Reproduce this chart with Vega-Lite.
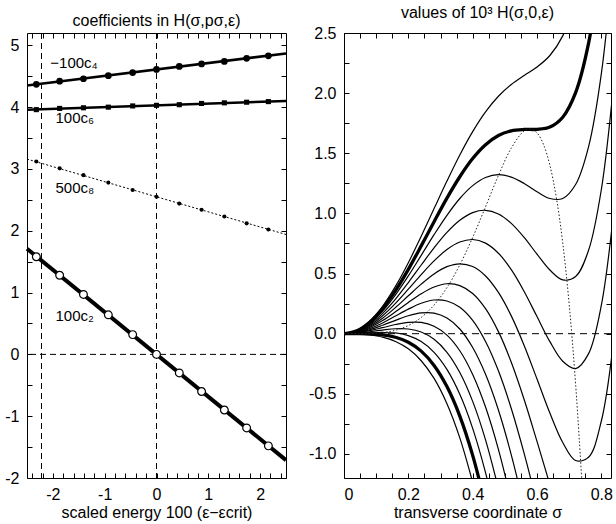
{
  "$schema": "https://vega.github.io/schema/vega-lite/v6.json",
  "padding": {"left": 4, "top": 5, "right": 2, "bottom": 2},
  "config": {
    "font": "Liberation Sans",
    "view": {"stroke": null},
    "axis": {"grid": false, "domainColor": "#000", "domainWidth": 1, "tickColor": "#000", "tickSize": -5, "tickWidth": 1, "labelColor": "#000", "labelFontSize": 16, "labelPadding": 13, "titleColor": "#000", "titleFontSize": 16, "titleFontWeight": "normal", "titlePadding": 2},
    "title": {"fontSize": 16, "fontWeight": "normal", "color": "#000", "offset": 4},
    "concat": {"spacing": 14}
  },
  "datasets": {
    "zero": [{"v": 0}],
    "vlines": [{"e": -2.22}, {"e": 0}],
    "fits": [
      {"series": "c4", "e": -2.5, "v": 4.35}, {"series": "c4", "e": 2.5, "v": 4.87},
      {"series": "c6", "e": -2.5, "v": 3.96}, {"series": "c6", "e": 2.5, "v": 4.10},
      {"series": "c8", "e": -2.5, "v": 3.16}, {"series": "c8", "e": 2.5, "v": 1.94},
      {"series": "c2", "e": -2.5, "v": 1.71}, {"series": "c2", "e": 2.5, "v": -1.71}
    ],
    "coef": [
      {"series": "c4", "e": -2.32, "v": 4.37}, {"series": "c4", "e": -1.87, "v": 4.42}, {"series": "c4", "e": -1.41, "v": 4.46}, {"series": "c4", "e": -0.93, "v": 4.51}, {"series": "c4", "e": -0.46, "v": 4.56}, {"series": "c4", "e": 0, "v": 4.61}, {"series": "c4", "e": 0.44, "v": 4.66}, {"series": "c4", "e": 0.87, "v": 4.70}, {"series": "c4", "e": 1.31, "v": 4.74}, {"series": "c4", "e": 1.74, "v": 4.79}, {"series": "c4", "e": 2.16, "v": 4.83},
      {"series": "c6", "e": -2.32, "v": 3.96}, {"series": "c6", "e": -1.87, "v": 3.98}, {"series": "c6", "e": -1.41, "v": 3.99}, {"series": "c6", "e": -0.93, "v": 4.00}, {"series": "c6", "e": -0.46, "v": 4.02}, {"series": "c6", "e": 0, "v": 4.03}, {"series": "c6", "e": 0.44, "v": 4.04}, {"series": "c6", "e": 0.87, "v": 4.06}, {"series": "c6", "e": 1.31, "v": 4.07}, {"series": "c6", "e": 1.74, "v": 4.08}, {"series": "c6", "e": 2.16, "v": 4.09},
      {"series": "c8", "e": -2.32, "v": 3.12}, {"series": "c8", "e": -1.87, "v": 3.01}, {"series": "c8", "e": -1.41, "v": 2.90}, {"series": "c8", "e": -0.93, "v": 2.78}, {"series": "c8", "e": -0.46, "v": 2.66}, {"series": "c8", "e": 0, "v": 2.55}, {"series": "c8", "e": 0.44, "v": 2.44}, {"series": "c8", "e": 0.87, "v": 2.34}, {"series": "c8", "e": 1.31, "v": 2.23}, {"series": "c8", "e": 1.74, "v": 2.12}, {"series": "c8", "e": 2.16, "v": 2.02},
      {"series": "c2", "e": -2.32, "v": 1.58}, {"series": "c2", "e": -1.87, "v": 1.28}, {"series": "c2", "e": -1.41, "v": 0.97}, {"series": "c2", "e": -0.93, "v": 0.64}, {"series": "c2", "e": -0.46, "v": 0.32}, {"series": "c2", "e": 0, "v": 0}, {"series": "c2", "e": 0.44, "v": -0.30}, {"series": "c2", "e": 0.87, "v": -0.60}, {"series": "c2", "e": 1.31, "v": -0.90}, {"series": "c2", "e": 1.74, "v": -1.19}, {"series": "c2", "e": 2.16, "v": -1.48}
    ],
    "notes": [
      {"text": "−100c₄", "e": -2.05, "v": 4.71},
      {"text": "100c₆", "e": -1.95, "v": 3.83},
      {"text": "500c₈", "e": -1.95, "v": 2.70},
      {"text": "100c₂", "e": -1.95, "v": 0.62}
    ],
    "curves": [
      {"eps": -2.4, "s": 0, "h": 0}, {"eps": -2.4, "s": 0.04, "h": 0.026}, {"eps": -2.4, "s": 0.08, "h": 0.104}, {"eps": -2.4, "s": 0.12, "h": 0.228}, {"eps": -2.4, "s": 0.16, "h": 0.393}, {"eps": -2.4, "s": 0.2, "h": 0.590}, {"eps": -2.4, "s": 0.24, "h": 0.810}, {"eps": -2.4, "s": 0.28, "h": 1.040}, {"eps": -2.4, "s": 0.32, "h": 1.269}, {"eps": -2.4, "s": 0.36, "h": 1.486}, {"eps": -2.4, "s": 0.4, "h": 1.680}, {"eps": -2.4, "s": 0.44, "h": 1.844}, {"eps": -2.4, "s": 0.48, "h": 1.974}, {"eps": -2.4, "s": 0.52, "h": 2.072}, {"eps": -2.4, "s": 0.56, "h": 2.147}, {"eps": -2.4, "s": 0.6, "h": 2.217}, {"eps": -2.4, "s": 0.64, "h": 2.313}, {"eps": -2.4, "s": 0.68, "h": 2.476}, {"eps": -2.4, "s": 0.72, "h": 2.769},
      {"eps": -2.2, "s": 0, "h": 0}, {"eps": -2.2, "s": 0.04, "h": 0.024}, {"eps": -2.2, "s": 0.08, "h": 0.095}, {"eps": -2.2, "s": 0.12, "h": 0.208}, {"eps": -2.2, "s": 0.16, "h": 0.358}, {"eps": -2.2, "s": 0.2, "h": 0.535}, {"eps": -2.2, "s": 0.24, "h": 0.730}, {"eps": -2.2, "s": 0.28, "h": 0.931}, {"eps": -2.2, "s": 0.32, "h": 1.127}, {"eps": -2.2, "s": 0.36, "h": 1.305}, {"eps": -2.2, "s": 0.4, "h": 1.456}, {"eps": -2.2, "s": 0.44, "h": 1.571}, {"eps": -2.2, "s": 0.48, "h": 1.648}, {"eps": -2.2, "s": 0.52, "h": 1.687}, {"eps": -2.2, "s": 0.56, "h": 1.698}, {"eps": -2.2, "s": 0.6, "h": 1.699}, {"eps": -2.2, "s": 0.64, "h": 1.718}, {"eps": -2.2, "s": 0.68, "h": 1.800}, {"eps": -2.2, "s": 0.72, "h": 2.004}, {"eps": -2.2, "s": 0.76, "h": 2.411}, {"eps": -2.2, "s": 0.8, "h": 3.124},
      {"eps": -2.0, "s": 0, "h": 0}, {"eps": -2.0, "s": 0.04, "h": 0.022}, {"eps": -2.0, "s": 0.08, "h": 0.086}, {"eps": -2.0, "s": 0.12, "h": 0.188}, {"eps": -2.0, "s": 0.16, "h": 0.323}, {"eps": -2.0, "s": 0.2, "h": 0.480}, {"eps": -2.0, "s": 0.24, "h": 0.651}, {"eps": -2.0, "s": 0.28, "h": 0.823}, {"eps": -2.0, "s": 0.32, "h": 0.984}, {"eps": -2.0, "s": 0.36, "h": 1.124}, {"eps": -2.0, "s": 0.4, "h": 1.231}, {"eps": -2.0, "s": 0.44, "h": 1.298}, {"eps": -2.0, "s": 0.48, "h": 1.322}, {"eps": -2.0, "s": 0.52, "h": 1.302}, {"eps": -2.0, "s": 0.56, "h": 1.249}, {"eps": -2.0, "s": 0.6, "h": 1.180}, {"eps": -2.0, "s": 0.64, "h": 1.124}, {"eps": -2.0, "s": 0.68, "h": 1.124}, {"eps": -2.0, "s": 0.72, "h": 1.240}, {"eps": -2.0, "s": 0.76, "h": 1.551}, {"eps": -2.0, "s": 0.8, "h": 2.162}, {"eps": -2.0, "s": 0.84, "h": 3.201},
      {"eps": -1.8, "s": 0, "h": 0}, {"eps": -1.8, "s": 0.04, "h": 0.020}, {"eps": -1.8, "s": 0.08, "h": 0.077}, {"eps": -1.8, "s": 0.12, "h": 0.169}, {"eps": -1.8, "s": 0.16, "h": 0.287}, {"eps": -1.8, "s": 0.2, "h": 0.425}, {"eps": -1.8, "s": 0.24, "h": 0.571}, {"eps": -1.8, "s": 0.28, "h": 0.714}, {"eps": -1.8, "s": 0.32, "h": 0.842}, {"eps": -1.8, "s": 0.36, "h": 0.943}, {"eps": -1.8, "s": 0.4, "h": 1.007}, {"eps": -1.8, "s": 0.44, "h": 1.026}, {"eps": -1.8, "s": 0.48, "h": 0.995}, {"eps": -1.8, "s": 0.52, "h": 0.917}, {"eps": -1.8, "s": 0.56, "h": 0.800}, {"eps": -1.8, "s": 0.6, "h": 0.661}, {"eps": -1.8, "s": 0.64, "h": 0.529}, {"eps": -1.8, "s": 0.68, "h": 0.447}, {"eps": -1.8, "s": 0.72, "h": 0.475}, {"eps": -1.8, "s": 0.76, "h": 0.691}, {"eps": -1.8, "s": 0.8, "h": 1.199}, {"eps": -1.8, "s": 0.84, "h": 2.128},
      {"eps": -1.6, "s": 0, "h": 0}, {"eps": -1.6, "s": 0.04, "h": 0.017}, {"eps": -1.6, "s": 0.08, "h": 0.068}, {"eps": -1.6, "s": 0.12, "h": 0.149}, {"eps": -1.6, "s": 0.16, "h": 0.252}, {"eps": -1.6, "s": 0.2, "h": 0.370}, {"eps": -1.6, "s": 0.24, "h": 0.491}, {"eps": -1.6, "s": 0.28, "h": 0.605}, {"eps": -1.6, "s": 0.32, "h": 0.700}, {"eps": -1.6, "s": 0.36, "h": 0.762}, {"eps": -1.6, "s": 0.4, "h": 0.783}, {"eps": -1.6, "s": 0.44, "h": 0.753}, {"eps": -1.6, "s": 0.48, "h": 0.669}, {"eps": -1.6, "s": 0.52, "h": 0.532}, {"eps": -1.6, "s": 0.56, "h": 0.351}, {"eps": -1.6, "s": 0.6, "h": 0.142}, {"eps": -1.6, "s": 0.64, "h": -0.066}, {"eps": -1.6, "s": 0.68, "h": -0.229}, {"eps": -1.6, "s": 0.72, "h": -0.290}, {"eps": -1.6, "s": 0.76, "h": -0.168}, {"eps": -1.6, "s": 0.8, "h": 0.237}, {"eps": -1.6, "s": 0.84, "h": 1.055},
      {"eps": -1.4, "s": 0, "h": 0}, {"eps": -1.4, "s": 0.04, "h": 0.015}, {"eps": -1.4, "s": 0.08, "h": 0.060}, {"eps": -1.4, "s": 0.12, "h": 0.129}, {"eps": -1.4, "s": 0.16, "h": 0.217}, {"eps": -1.4, "s": 0.2, "h": 0.315}, {"eps": -1.4, "s": 0.24, "h": 0.412}, {"eps": -1.4, "s": 0.28, "h": 0.497}, {"eps": -1.4, "s": 0.32, "h": 0.557}, {"eps": -1.4, "s": 0.36, "h": 0.581}, {"eps": -1.4, "s": 0.4, "h": 0.558}, {"eps": -1.4, "s": 0.44, "h": 0.480}, {"eps": -1.4, "s": 0.48, "h": 0.343}, {"eps": -1.4, "s": 0.52, "h": 0.148}, {"eps": -1.4, "s": 0.56, "h": -0.098}, {"eps": -1.4, "s": 0.6, "h": -0.377}, {"eps": -1.4, "s": 0.64, "h": -0.660}, {"eps": -1.4, "s": 0.68, "h": -0.905}, {"eps": -1.4, "s": 0.72, "h": -1.054}, {"eps": -1.4, "s": 0.76, "h": -1.028}, {"eps": -1.4, "s": 0.8, "h": -0.726}, {"eps": -1.4, "s": 0.84, "h": -0.018},
      {"eps": -1.2, "s": 0, "h": 0}, {"eps": -1.2, "s": 0.04, "h": 0.013}, {"eps": -1.2, "s": 0.08, "h": 0.051}, {"eps": -1.2, "s": 0.12, "h": 0.109}, {"eps": -1.2, "s": 0.16, "h": 0.182}, {"eps": -1.2, "s": 0.2, "h": 0.260}, {"eps": -1.2, "s": 0.24, "h": 0.332}, {"eps": -1.2, "s": 0.28, "h": 0.388}, {"eps": -1.2, "s": 0.32, "h": 0.415}, {"eps": -1.2, "s": 0.36, "h": 0.400}, {"eps": -1.2, "s": 0.4, "h": 0.334}, {"eps": -1.2, "s": 0.44, "h": 0.208}, {"eps": -1.2, "s": 0.48, "h": 0.017}, {"eps": -1.2, "s": 0.52, "h": -0.237}, {"eps": -1.2, "s": 0.56, "h": -0.547}, {"eps": -1.2, "s": 0.6, "h": -0.896}, {"eps": -1.2, "s": 0.64, "h": -1.255},
      {"eps": -1.0, "s": 0, "h": 0}, {"eps": -1.0, "s": 0.04, "h": 0.011}, {"eps": -1.0, "s": 0.08, "h": 0.042}, {"eps": -1.0, "s": 0.12, "h": 0.089}, {"eps": -1.0, "s": 0.16, "h": 0.147}, {"eps": -1.0, "s": 0.2, "h": 0.204}, {"eps": -1.0, "s": 0.24, "h": 0.253}, {"eps": -1.0, "s": 0.28, "h": 0.280}, {"eps": -1.0, "s": 0.32, "h": 0.272}, {"eps": -1.0, "s": 0.36, "h": 0.219}, {"eps": -1.0, "s": 0.4, "h": 0.110}, {"eps": -1.0, "s": 0.44, "h": -0.065}, {"eps": -1.0, "s": 0.48, "h": -0.309}, {"eps": -1.0, "s": 0.52, "h": -0.622}, {"eps": -1.0, "s": 0.56, "h": -0.996}, {"eps": -1.0, "s": 0.6, "h": -1.414},
      {"eps": -0.8, "s": 0, "h": 0}, {"eps": -0.8, "s": 0.04, "h": 0.009}, {"eps": -0.8, "s": 0.08, "h": 0.033}, {"eps": -0.8, "s": 0.12, "h": 0.070}, {"eps": -0.8, "s": 0.16, "h": 0.111}, {"eps": -0.8, "s": 0.2, "h": 0.149}, {"eps": -0.8, "s": 0.24, "h": 0.173}, {"eps": -0.8, "s": 0.28, "h": 0.171}, {"eps": -0.8, "s": 0.32, "h": 0.130}, {"eps": -0.8, "s": 0.36, "h": 0.039}, {"eps": -0.8, "s": 0.4, "h": -0.115}, {"eps": -0.8, "s": 0.44, "h": -0.338}, {"eps": -0.8, "s": 0.48, "h": -0.635}, {"eps": -0.8, "s": 0.52, "h": -1.007}, {"eps": -0.8, "s": 0.56, "h": -1.445},
      {"eps": -0.6, "s": 0, "h": 0}, {"eps": -0.6, "s": 0.04, "h": 0.007}, {"eps": -0.6, "s": 0.08, "h": 0.025}, {"eps": -0.6, "s": 0.12, "h": 0.050}, {"eps": -0.6, "s": 0.16, "h": 0.076}, {"eps": -0.6, "s": 0.2, "h": 0.094}, {"eps": -0.6, "s": 0.24, "h": 0.094}, {"eps": -0.6, "s": 0.28, "h": 0.062}, {"eps": -0.6, "s": 0.32, "h": -0.012}, {"eps": -0.6, "s": 0.36, "h": -0.142}, {"eps": -0.6, "s": 0.4, "h": -0.339}, {"eps": -0.6, "s": 0.44, "h": -0.610}, {"eps": -0.6, "s": 0.48, "h": -0.962}, {"eps": -0.6, "s": 0.52, "h": -1.392},
      {"eps": -0.4, "s": 0, "h": 0}, {"eps": -0.4, "s": 0.04, "h": 0.004}, {"eps": -0.4, "s": 0.08, "h": 0.016}, {"eps": -0.4, "s": 0.12, "h": 0.030}, {"eps": -0.4, "s": 0.16, "h": 0.041}, {"eps": -0.4, "s": 0.2, "h": 0.039}, {"eps": -0.4, "s": 0.24, "h": 0.014}, {"eps": -0.4, "s": 0.28, "h": -0.047}, {"eps": -0.4, "s": 0.32, "h": -0.155}, {"eps": -0.4, "s": 0.36, "h": -0.323}, {"eps": -0.4, "s": 0.4, "h": -0.563}, {"eps": -0.4, "s": 0.44, "h": -0.883}, {"eps": -0.4, "s": 0.48, "h": -1.288},
      {"eps": -0.2, "s": 0, "h": 0}, {"eps": -0.2, "s": 0.04, "h": 0.002}, {"eps": -0.2, "s": 0.08, "h": 0.007}, {"eps": -0.2, "s": 0.12, "h": 0.010}, {"eps": -0.2, "s": 0.16, "h": 0.006}, {"eps": -0.2, "s": 0.2, "h": -0.016}, {"eps": -0.2, "s": 0.24, "h": -0.066}, {"eps": -0.2, "s": 0.28, "h": -0.155}, {"eps": -0.2, "s": 0.32, "h": -0.297}, {"eps": -0.2, "s": 0.36, "h": -0.504}, {"eps": -0.2, "s": 0.4, "h": -0.787}, {"eps": -0.2, "s": 0.44, "h": -1.156}, {"eps": -0.2, "s": 0.48, "h": -1.614},
      {"eps": 0, "s": 0, "h": 0}, {"eps": 0, "s": 0.04, "h": -0.0001}, {"eps": 0, "s": 0.08, "h": -0.002}, {"eps": 0, "s": 0.12, "h": -0.009}, {"eps": 0, "s": 0.16, "h": -0.030}, {"eps": 0, "s": 0.2, "h": -0.071}, {"eps": 0, "s": 0.24, "h": -0.145}, {"eps": 0, "s": 0.28, "h": -0.264}, {"eps": 0, "s": 0.32, "h": -0.440}, {"eps": 0, "s": 0.36, "h": -0.685}, {"eps": 0, "s": 0.4, "h": -1.012}, {"eps": 0, "s": 0.44, "h": -1.428},
      {"eps": 0.2, "s": 0, "h": 0}, {"eps": 0.2, "s": 0.04, "h": -0.002}, {"eps": 0.2, "s": 0.08, "h": -0.011}, {"eps": 0.2, "s": 0.12, "h": -0.029}, {"eps": 0.2, "s": 0.16, "h": -0.065}, {"eps": 0.2, "s": 0.2, "h": -0.126}, {"eps": 0.2, "s": 0.24, "h": -0.225}, {"eps": 0.2, "s": 0.28, "h": -0.372}, {"eps": 0.2, "s": 0.32, "h": -0.582}, {"eps": 0.2, "s": 0.36, "h": -0.866}, {"eps": 0.2, "s": 0.4, "h": -1.236}
    ],
    "locus": [
      {"s": 0, "h": 0}, {"s": 0.04, "h": 0.0001}, {"s": 0.08, "h": 0.0019}, {"s": 0.12, "h": 0.0093}, {"s": 0.16, "h": 0.0286}, {"s": 0.2, "h": 0.0677}, {"s": 0.24, "h": 0.135}, {"s": 0.28, "h": 0.238}, {"s": 0.32, "h": 0.383}, {"s": 0.36, "h": 0.572}, {"s": 0.4, "h": 0.800}, {"s": 0.44, "h": 1.055}, {"s": 0.48, "h": 1.315}, {"s": 0.52, "h": 1.543}, {"s": 0.56, "h": 1.686}, {"s": 0.58, "h": 1.703}, {"s": 0.6, "h": 1.670}, {"s": 0.62, "h": 1.574}, {"s": 0.64, "h": 1.400}, {"s": 0.66, "h": 1.133}, {"s": 0.68, "h": 0.754}, {"s": 0.7, "h": 0.244}, {"s": 0.72, "h": -0.418}, {"s": 0.74, "h": -1.255}
    ]
  },
  "hconcat": [
    {
      "width": 259,
      "height": 445,
      "title": "coefficients in H(σ,pσ,ε)",
      "layer": [
        {
          "data": {"name": "zero"},
          "mark": {"type": "rule", "strokeDash": [6, 4], "strokeWidth": 1, "color": "#000"},
          "encoding": {
            "y": {"field": "v", "type": "quantitative", "scale": {"domain": [-2, 5.2], "nice": false, "zero": false},
              "axis": {"orient": "right", "values": [-2, -1.5, -1, -0.5, 0, 0.5, 1, 1.5, 2, 2.5, 3, 3.5, 4, 4.5, 5], "labels": false, "title": null, "minExtent": 0, "maxExtent": 0}}
          }
        },
        {
          "data": {"name": "vlines"},
          "mark": {"type": "rule", "strokeDash": [6, 4], "strokeWidth": 1, "color": "#000"},
          "encoding": {
            "x": {"field": "e", "type": "quantitative", "scale": {"domain": [-2.5, 2.5], "nice": false, "zero": false},
              "axis": {"orient": "top", "values": [-2.4, -2.2, -2, -1.8, -1.6, -1.4, -1.2, -1, -0.8, -0.6, -0.4, -0.2, 0, 0.2, 0.4, 0.6, 0.8, 1, 1.2, 1.4, 1.6, 1.8, 2, 2.2, 2.4], "labels": false, "title": null}}
          }
        },
        {
          "data": {"name": "fits"},
          "transform": [{"filter": "datum.series == 'c8'"}],
          "mark": {"type": "line", "strokeDash": [2, 2], "strokeWidth": 1, "color": "#000"},
          "encoding": {
            "x": {"field": "e", "type": "quantitative", "scale": {"domain": [-2.5, 2.5], "nice": false, "zero": false},
              "axis": {"orient": "bottom", "values": [-2.4, -2.2, -2, -1.8, -1.6, -1.4, -1.2, -1, -0.8, -0.6, -0.4, -0.2, 0, 0.2, 0.4, 0.6, 0.8, 1, 1.2, 1.4, 1.6, 1.8, 2, 2.2, 2.4], "labelExpr": "datum.value == round(datum.value) ? '' + datum.value : ''", "title": "scaled energy 100 (ε−εcrit)"}},
            "y": {"field": "v", "type": "quantitative", "scale": {"domain": [-2, 5.2], "nice": false, "zero": false},
              "axis": {"orient": "left", "values": [-2, -1.5, -1, -0.5, 0, 0.5, 1, 1.5, 2, 2.5, 3, 3.5, 4, 4.5, 5], "labelExpr": "datum.value == round(datum.value) ? '' + datum.value : ''", "title": null}},
            "detail": {"field": "series", "type": "nominal"}
          }
        },
        {
          "data": {"name": "fits"},
          "transform": [{"filter": "datum.series == 'c4' || datum.series == 'c6'"}],
          "mark": {"type": "line", "strokeWidth": 2.5, "color": "#000"},
          "encoding": {
            "x": {"field": "e", "type": "quantitative", "scale": {"domain": [-2.5, 2.5], "nice": false, "zero": false}, "axis": null},
            "y": {"field": "v", "type": "quantitative", "scale": {"domain": [-2, 5.2], "nice": false, "zero": false}, "axis": null},
            "detail": {"field": "series", "type": "nominal"}
          }
        },
        {
          "data": {"name": "fits"},
          "transform": [{"filter": "datum.series == 'c2'"}],
          "mark": {"type": "line", "strokeWidth": 4, "color": "#000"},
          "encoding": {
            "x": {"field": "e", "type": "quantitative", "scale": {"domain": [-2.5, 2.5], "nice": false, "zero": false}, "axis": null},
            "y": {"field": "v", "type": "quantitative", "scale": {"domain": [-2, 5.2], "nice": false, "zero": false}, "axis": null}
          }
        },
        {
          "data": {"name": "coef"},
          "transform": [{"filter": "datum.series == 'c4'"}],
          "mark": {"type": "point", "shape": "circle", "filled": true, "color": "#000", "size": 45, "opacity": 1},
          "encoding": {
            "x": {"field": "e", "type": "quantitative", "scale": {"domain": [-2.5, 2.5], "nice": false, "zero": false}, "axis": null},
            "y": {"field": "v", "type": "quantitative", "scale": {"domain": [-2, 5.2], "nice": false, "zero": false}, "axis": null}
          }
        },
        {
          "data": {"name": "coef"},
          "transform": [{"filter": "datum.series == 'c6'"}],
          "mark": {"type": "point", "shape": "square", "filled": true, "color": "#000", "size": 26, "opacity": 1},
          "encoding": {
            "x": {"field": "e", "type": "quantitative", "scale": {"domain": [-2.5, 2.5], "nice": false, "zero": false}, "axis": null},
            "y": {"field": "v", "type": "quantitative", "scale": {"domain": [-2, 5.2], "nice": false, "zero": false}, "axis": null}
          }
        },
        {
          "data": {"name": "coef"},
          "transform": [{"filter": "datum.series == 'c8'"}],
          "mark": {"type": "point", "shape": "circle", "filled": true, "color": "#000", "size": 17, "opacity": 1},
          "encoding": {
            "x": {"field": "e", "type": "quantitative", "scale": {"domain": [-2.5, 2.5], "nice": false, "zero": false}, "axis": null},
            "y": {"field": "v", "type": "quantitative", "scale": {"domain": [-2, 5.2], "nice": false, "zero": false}, "axis": null}
          }
        },
        {
          "data": {"name": "coef"},
          "transform": [{"filter": "datum.series == 'c2'"}],
          "mark": {"type": "point", "shape": "circle", "filled": true, "fill": "#fff", "stroke": "#000", "strokeWidth": 1.2, "size": 60, "opacity": 1},
          "encoding": {
            "x": {"field": "e", "type": "quantitative", "scale": {"domain": [-2.5, 2.5], "nice": false, "zero": false}, "axis": null},
            "y": {"field": "v", "type": "quantitative", "scale": {"domain": [-2, 5.2], "nice": false, "zero": false}, "axis": null}
          }
        },
        {
          "data": {"name": "notes"},
          "mark": {"type": "text", "align": "left", "baseline": "middle", "fontSize": 15, "color": "#000"},
          "encoding": {
            "x": {"field": "e", "type": "quantitative", "scale": {"domain": [-2.5, 2.5], "nice": false, "zero": false}, "axis": null},
            "y": {"field": "v", "type": "quantitative", "scale": {"domain": [-2, 5.2], "nice": false, "zero": false}, "axis": null},
            "text": {"field": "text"}
          }
        }
      ],
      "resolve": {"axis": {"x": "independent", "y": "independent"}}
    },
    {
      "width": 267,
      "height": 445,
      "title": "values of 10³ H(σ,0,ε)",
      "layer": [
        {
          "data": {"name": "zero"},
          "mark": {"type": "rule", "strokeDash": [7, 5], "strokeWidth": 1, "color": "#000"},
          "encoding": {
            "y": {"field": "v", "type": "quantitative", "scale": {"domain": [-1.2, 2.5], "nice": false, "zero": false}, "axis": null}
          }
        },
        {
          "data": {"name": "curves"},
          "transform": [{"filter": "datum.eps != -2.2 && datum.eps != 0"}],
          "mark": {"type": "line", "interpolate": "catmull-rom", "clip": true, "strokeWidth": 1.2, "color": "#000"},
          "encoding": {
            "x": {"field": "s", "type": "quantitative", "scale": {"domain": [0, 0.83], "nice": false, "zero": false},
              "axis": {"orient": "bottom", "values": [0, 0.05, 0.1, 0.15, 0.2, 0.25, 0.3, 0.35, 0.4, 0.45, 0.5, 0.55, 0.6, 0.65, 0.7, 0.75, 0.8], "labelExpr": "indexof([0, 0.2, 0.4, 0.6, 0.8], datum.value) >= 0 ? (datum.value == 0 ? '0' : format(datum.value, '.1f')) : ''", "title": "transverse coordinate σ"}},
            "y": {"field": "h", "type": "quantitative", "scale": {"domain": [-1.2, 2.5], "nice": false, "zero": false},
              "axis": {"orient": "left", "values": [-1, -0.75, -0.5, -0.25, 0, 0.25, 0.5, 0.75, 1, 1.25, 1.5, 1.75, 2, 2.25, 2.5], "labelExpr": "indexof([-1, -0.5, 0, 0.5, 1, 1.5, 2, 2.5], datum.value) >= 0 ? (datum.value < 0 ? '-' : '') + format(abs(datum.value), '.1f') : ''", "title": null}},
            "detail": {"field": "eps", "type": "nominal"}
          }
        },
        {
          "data": {"name": "curves"},
          "transform": [{"filter": "datum.eps == -2.2 || datum.eps == 0"}],
          "mark": {"type": "line", "interpolate": "catmull-rom", "clip": true, "strokeWidth": 3.3, "color": "#000"},
          "encoding": {
            "x": {"field": "s", "type": "quantitative", "scale": {"domain": [0, 0.83], "nice": false, "zero": false}, "axis": null},
            "y": {"field": "h", "type": "quantitative", "scale": {"domain": [-1.2, 2.5], "nice": false, "zero": false}, "axis": null},
            "detail": {"field": "eps", "type": "nominal"}
          }
        },
        {
          "data": {"name": "locus"},
          "mark": {"type": "line", "interpolate": "catmull-rom", "clip": true, "strokeWidth": 1, "strokeDash": [1.5, 2], "color": "#222"},
          "encoding": {
            "x": {"field": "s", "type": "quantitative", "scale": {"domain": [0, 0.83], "nice": false, "zero": false},
              "axis": {"orient": "top", "values": [0, 0.05, 0.1, 0.15, 0.2, 0.25, 0.3, 0.35, 0.4, 0.45, 0.5, 0.55, 0.6, 0.65, 0.7, 0.75, 0.8], "labels": false, "title": null}},
            "y": {"field": "h", "type": "quantitative", "scale": {"domain": [-1.2, 2.5], "nice": false, "zero": false},
              "axis": {"orient": "right", "values": [-1, -0.75, -0.5, -0.25, 0, 0.25, 0.5, 0.75, 1, 1.25, 1.5, 1.75, 2, 2.25, 2.5], "labels": false, "title": null, "minExtent": 0, "maxExtent": 0}}
          }
        }
      ],
      "resolve": {"axis": {"x": "independent", "y": "independent"}}
    }
  ]
}
